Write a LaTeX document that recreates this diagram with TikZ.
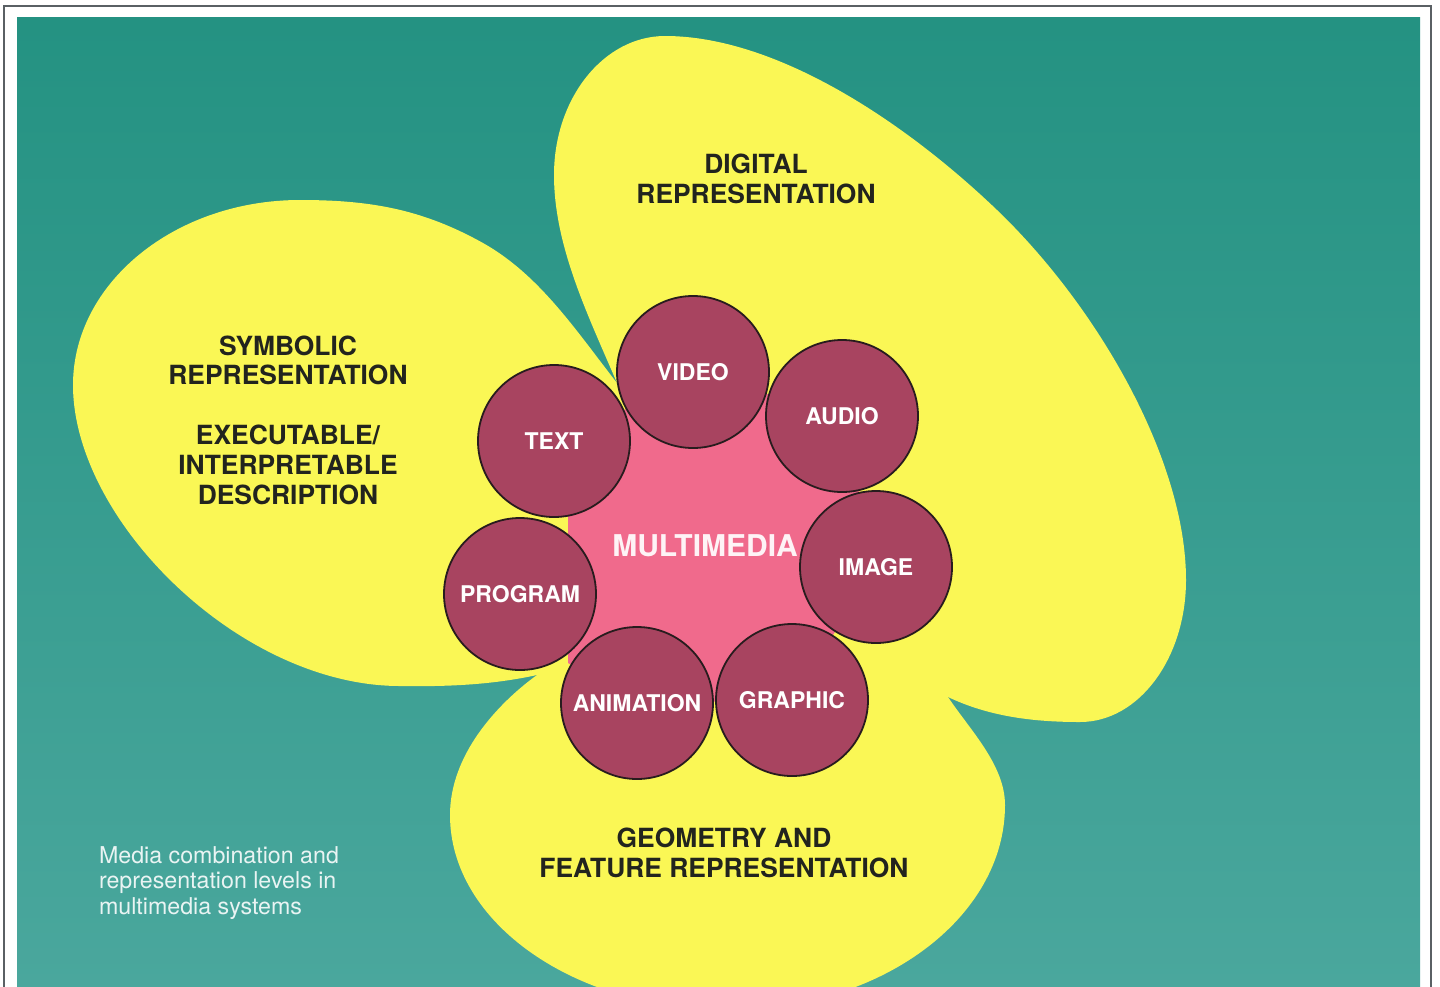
\documentclass[tikz,border=0pt]{standalone}
\usepackage{fontspec}
\setmainfont{TeX Gyre Heros}
\definecolor{seatop}{RGB}{36,146,130}
\definecolor{seabot}{RGB}{74,167,157}
\definecolor{lemon}{RGB}{250,247,85}
\definecolor{rose}{RGB}{240,106,140}
\definecolor{wine}{RGB}{168,68,96}
\definecolor{rim}{RGB}{40,28,30}
\definecolor{ink}{RGB}{34,36,30}
\definecolor{frameline}{RGB}{90,96,100}
\begin{document}
\begin{tikzpicture}[x=0.5pt,y=-0.5pt,
    petal/.style={fill=lemon},
    medium/.style={circle,draw=rim,line width=0.9pt,fill=wine,minimum size=76pt,inner sep=0pt,
      text=white,font=\fontsize{11.5}{13}\selectfont\bfseries},
    level/.style={align=center,text=ink,font=\fontsize{13.2}{14.9}\selectfont\bfseries}]
  \useasboundingbox (0,0) rectangle (1440,986);
  % paper and frame
  \fill[white] (0,0) rectangle (1440,986);
  \draw[frameline,line width=1pt] (3.5,6) rectangle (1431,1000);
  \shade[top color=seatop,bottom color=seabot] (17,17) rectangle (1420,986);
  % symbolic petal
  \fill[petal] (617,383) .. controls (577,332) and (540,275) .. (483,243)
    .. controls (422,209) and (370,200) .. (300,200)
    .. controls (175,200) and (73,283) .. (73,385)
    .. controls (73,520) and (240,686) .. (400,686)
    .. controls (460,687) and (500,683) .. (537,675)
    -- (600,690) -- (650,560) -- (660,430) -- cycle;
  % digital petal
  \fill[petal] (617,383) .. controls (589,317) and (554,247) .. (554,175)
    .. controls (554,98) and (604,36) .. (665,36)
    .. controls (775,36) and (903,120) .. (997,210)
    .. controls (1098,307) and (1186,460) .. (1186,580)
    .. controls (1186,658) and (1139,722) .. (1080,722)
    .. controls (1035,722) and (990,717) .. (948,697)
    -- (890,690) -- (820,700) -- (760,560) -- (650,430) -- cycle;
  % geometry petal
  \fill[petal] (537,675) .. controls (497,704) and (450,755) .. (450,815)
    .. controls (450,923) and (575,1010) .. (728,1010)
    .. controls (881,1010) and (1005,918) .. (1005,805)
    .. controls (1005,765) and (970,730) .. (948,697)
    -- (935,650) -- (870,610) -- (720,600) -- (580,645) -- cycle;
  % centre
  \fill[rose] (568,441) -- (693,372) -- (842,416) -- (876,567) -- (792,700) -- (637,703)
    -- (568,663) -- cycle;
  \node[text=white!92!rose,font=\fontsize{15}{17}\selectfont\bfseries] (multimedia) at (705,546) {MULTIMEDIA};
  % media
  \foreach \name/\pos/\lab in {video/{693,372}/VIDEO, audio/{842,416}/AUDIO,
      image/{876,567}/IMAGE, graphic/{792,700}/GRAPHIC, animation/{637,703}/ANIMATION,
      program/{520,594}/PROGRAM, text/{554,441}/TEXT}
    \node[medium] (\name) at (\pos) {\lab};
  % labels
  \node[level] (digital) at (756,179) {DIGITAL\\REPRESENTATION};
  \node[level] (symbolic) at (288,420) {SYMBOLIC\\REPRESENTATION\\[14.9pt]EXECUTABLE/\\INTERPRETABLE\\DESCRIPTION};
  \node[level] (geometry) at (724,853) {GEOMETRY AND\\FEATURE REPRESENTATION};
  \node[align=left,anchor=west,text=white!90!seatop,font=\fontsize{11.6}{12.9}\selectfont] (caption) at (92,883)
    {Media combination and\\representation levels in\\multimedia systems};
\end{tikzpicture}
\end{document}
